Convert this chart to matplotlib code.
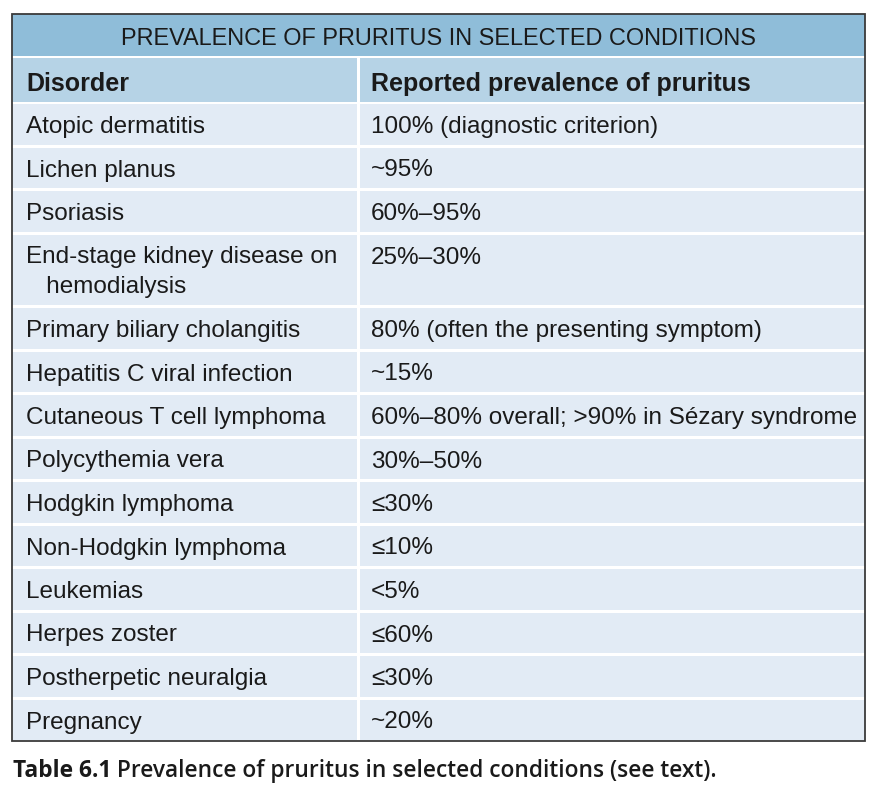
import matplotlib
matplotlib.use("Agg")
import matplotlib.pyplot as plt
from matplotlib.patches import Rectangle
from matplotlib import font_manager

# Dados da tabela
titulo = "PREVALENCE OF PRURITUS IN SELECTED CONDITIONS"
cabecalho = ["Disorder", "Reported prevalence of pruritus"]
disturbios = [
    "Atopic dermatitis",
    "Lichen planus",
    "Psoriasis",
    "End-stage kidney disease on\n   hemodialysis",
    "Primary biliary cholangitis",
    "Hepatitis C viral infection",
    "Cutaneous T cell lymphoma",
    "Polycythemia vera",
    "Hodgkin lymphoma",
    "Non-Hodgkin lymphoma",
    "Leukemias",
    "Herpes zoster",
    "Postherpetic neuralgia",
    "Pregnancy",
]
prevalencias = [
    "100% (diagnostic criterion)",
    "~95%",
    "60%–95%",
    "25%–30%",
    "80% (often the presenting symptom)",
    "~15%",
    "60%–80% overall; >90% in Sézary syndrome",
    "30%–50%",
    "≤30%",
    "≤10%",
    "<5%",
    "≤60%",
    "≤30%",
    "~20%",
]
legenda_bold = "Table 6.1"
legenda_resto = " Prevalence of pruritus in selected conditions (see text)."


def fonte_disponivel(nomes):
    for n in nomes:
        try:
            font_manager.findfont(n, fallback_to_default=False)
            return n
        except Exception:
            pass
    return "DejaVu Sans"


fonte = fonte_disponivel(["Liberation Sans", "Arial", "DejaVu Sans"])
fonte_leg = fonte_disponivel(["Open Sans", "Noto Sans", "DejaVu Sans"])
familia = [fonte, "DejaVu Sans"]

# cores
cor_titulo = "#8fbdd9"
cor_cab = "#b6d3e6"
cor_corpo = "#e2ebf5"
cor_borda = "#3a3a3a"

W, H = 881, 798
fig = plt.figure(figsize=(W / 100, H / 100), dpi=100)
ax = fig.add_axes([0, 0, 1, 1])
ax.set_xlim(0, W)
ax.set_ylim(H, 0)
ax.axis("off")

x0, x1 = 12, 865
xcol = 357
sep = 3
pt = 0.72  # px -> pt

# linha do titulo
y_tit, h_tit = 14, 42
ax.add_patch(Rectangle((x0, y_tit), x1 - x0, h_tit, color=cor_titulo, lw=0))
ax.text((x0 + x1) / 2, y_tit + 31, titulo, ha="center", va="baseline",
        fontsize=23.5 * pt, family=familia, color="#1a1a1a")

# cabecalho
y_cab = y_tit + h_tit + 2
h_cab = 102 - y_cab
ax.add_patch(Rectangle((x0, y_cab), xcol - x0, h_cab, color=cor_cab, lw=0))
ax.add_patch(Rectangle((xcol + sep, y_cab), x1 - xcol - sep, h_cab, color=cor_cab, lw=0))
ax.text(26, y_cab + 33, cabecalho[0], ha="left", va="baseline",
        fontsize=25 * pt, family=familia, weight="bold", color="#1a1a1a")
ax.text(371, y_cab + 33, cabecalho[1], ha="left", va="baseline",
        fontsize=25 * pt, family=familia, weight="bold", color="#1a1a1a")

# linhas do corpo
h_linha = 43.5
extra = 30
y = y_cab + h_cab + 2
for disturbio, prev in zip(disturbios, prevalencias):
    n = disturbio.count("\n") + 1
    h = h_linha + extra * (n - 1)
    ax.add_patch(Rectangle((x0, y), xcol - x0, h - sep, color=cor_corpo, lw=0))
    ax.add_patch(Rectangle((xcol + sep, y), x1 - xcol - sep, h - sep, color=cor_corpo, lw=0))
    for i, parte in enumerate(disturbio.split("\n")):
        ax.text(26, y + 29 + i * extra, parte, ha="left", va="baseline",
                fontsize=24.2 * pt, family=familia, color="#1a1a1a")
    ax.text(371, y + 29, prev, ha="left", va="baseline",
            fontsize=24.2 * pt, family=familia, color="#1a1a1a")
    y += h

y_fim = y - sep + 1
ax.add_patch(Rectangle((x0, y_tit), x1 - x0, y_fim - y_tit, fill=False,
                       edgecolor=cor_borda, lw=1.3))

# legenda abaixo da tabela: ajusta o tamanho para ocupar ~706 px
fig.canvas.draw()
r = fig.canvas.get_renderer()
tam = 26 * pt
fam_leg = [fonte_leg, "DejaVu Sans"]
t1 = ax.text(13, 777, legenda_bold, ha="left", va="baseline", fontsize=tam,
             family=fam_leg, weight="bold", color="#1a1a1a")
t2 = ax.text(13, 777, legenda_resto, ha="left", va="baseline", fontsize=tam,
             family=fam_leg, weight="semibold", color="#1a1a1a")
largura = t1.get_window_extent(r).width + t2.get_window_extent(r).width
fator = 706 / largura
tam = tam * fator
t1.set_fontsize(tam)
t2.set_fontsize(tam)
w1 = t1.get_window_extent(r).width
t2.set_x(13 + w1)

fig.savefig("out.png", dpi=100)
